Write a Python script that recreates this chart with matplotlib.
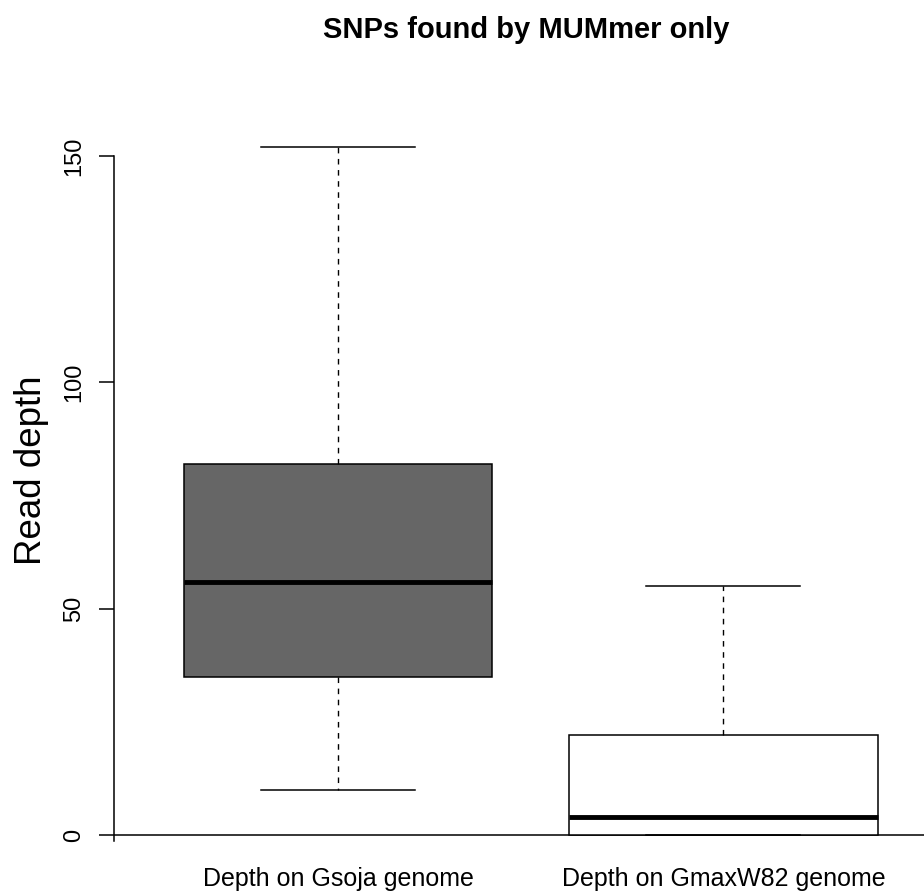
import matplotlib
matplotlib.use("Agg")
import matplotlib.pyplot as plt

plt.rcParams['font.family'] = ['Liberation Sans', 'DejaVu Sans']

# valeurs
categories = ["Depth on Gsoja genome", "Depth on GmaxW82 genome"]
whislo = [10, 0]
q1 = [35, 0]
med = [56, 4]
q3 = [82, 22]
whishi = [152, 55]
fills = ["#666666", "#ffffff"]
yticks = [0, 50, 100, 150]

stats = []
for i in range(len(categories)):
    stats.append({"whislo": whislo[i], "q1": q1[i], "med": med[i],
                  "q3": q3[i], "whishi": whishi[i], "label": categories[i]})

fig = plt.figure(figsize=(9.24, 8.94), dpi=100)
ax = fig.add_axes([0.1238, 0.0352, 0.901, 0.8312])

bp = ax.bxp(stats, positions=[1, 2], widths=0.8, patch_artist=True,
            showfliers=False,
            boxprops=dict(edgecolor="black", linewidth=1.1),
            medianprops=dict(color="black", linewidth=3.5, solid_capstyle="butt"),
            whiskerprops=dict(color="black", linewidth=1.0, linestyle=(0, (4, 4))),
            capprops=dict(color="black", linewidth=1.1),
            capwidths=0.4)
for patch, c in zip(bp["boxes"], fills):
    patch.set_facecolor(c)

# ligne horizontale a 0
ax.axhline(0, color="black", linewidth=1.1, zorder=0)

ax.set_xlim(0.42, 2.58)
ax.set_ylim(-6.08, 158.08)

for s in ["top", "right", "bottom"]:
    ax.spines[s].set_visible(False)
ax.spines["left"].set_bounds(-1.3, 150)
ax.spines["left"].set_linewidth(1.1)

ax.set_yticks(yticks)
ax.set_yticklabels([str(v) for v in yticks], rotation=90, va="center", fontsize=17)
ax.tick_params(axis="y", length=10.8, width=1.1, pad=10)
ax.set_xticks([1, 2])
ax.set_xticklabels(categories, fontsize=18)
ax.tick_params(axis="x", length=0, pad=3)

fig.text(32 / 924, 1 - 470 / 894, "Read depth", rotation=90, ha="center",
         va="center", fontsize=26.5)
fig.text(0.569, 0.966, "SNPs found by MUMmer only", ha="center", va="center",
         fontsize=21, fontweight="bold")

fig.savefig("out.png", dpi=100)
